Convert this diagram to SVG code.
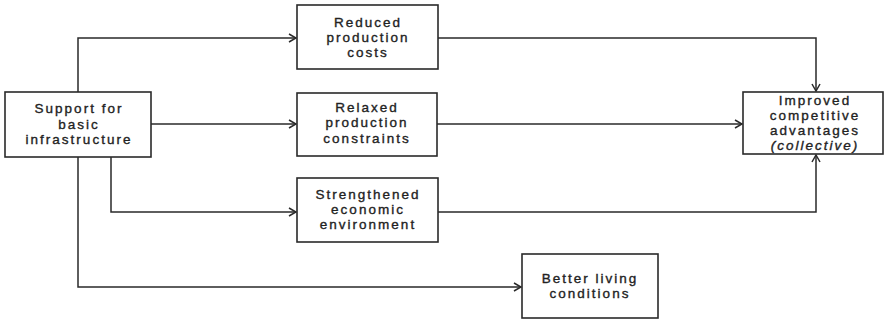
<svg xmlns="http://www.w3.org/2000/svg" width="885" height="320" viewBox="0 0 885 320">
  <defs>
    <marker id="arrow" viewBox="0 0 10 10" refX="9" refY="5" markerWidth="10" markerHeight="10" markerUnits="userSpaceOnUse" orient="auto">
      <polyline points="2,1 9,5 2,9" fill="none" stroke="#2a2a2a" stroke-width="1.5"/>
    </marker>
    <style>
      .box { fill: #ffffff; stroke: #2a2a2a; stroke-width: 1.6; }
      .lbl { font-family: "Liberation Sans", Arial, sans-serif; font-size: 13.5px; letter-spacing: 2px; fill: #222222; stroke: #222222; stroke-width: 0.35; text-anchor: middle; }
      .it { font-style: italic; }
      .edge { fill: none; stroke: #2a2a2a; stroke-width: 1.5; marker-end: url(#arrow); }
    </style>
  </defs>
  <rect width="885" height="320" fill="#ffffff"/>

  <g id="connectors">
    <!-- from the infrastructure box -->
    <polyline class="edge" points="78,92 78,38 296,38"/>
    <polyline class="edge" points="151,124 296,124"/>
    <polyline class="edge" points="111,157 111,212 296,212"/>
    <polyline class="edge" points="78,157 78,287 521,287"/>
    <!-- into the competitive advantages box -->
    <polyline class="edge" points="438,38 816,38 816,91"/>
    <polyline class="edge" points="437,124 742,124"/>
    <polyline class="edge" points="438,212 816,212 816,155"/>
  </g>

  <g id="support">
    <rect class="box" x="5" y="92" width="146" height="65"/>
    <text class="lbl" x="79" y="113.3">Support for</text>
    <text class="lbl" x="79" y="128.5">basic</text>
    <text class="lbl" x="79" y="143.7">infrastructure</text>
  </g>

  <g id="reduced">
    <rect class="box" x="297" y="5" width="141" height="64"/>
    <text class="lbl" x="368" y="26.8">Reduced</text>
    <text class="lbl" x="368" y="42">production</text>
    <text class="lbl" x="368" y="57.2">costs</text>
  </g>

  <g id="relaxed">
    <rect class="box" x="297" y="93" width="140" height="63"/>
    <text class="lbl" x="367" y="112.2">Relaxed</text>
    <text class="lbl" x="367" y="127.4">production</text>
    <text class="lbl" x="367" y="142.6">constraints</text>
  </g>

  <g id="strengthened">
    <rect class="box" x="297" y="178" width="141" height="64"/>
    <text class="lbl" x="368" y="198.8">Strengthened</text>
    <text class="lbl" x="368" y="214">economic</text>
    <text class="lbl" x="368" y="229.2">environment</text>
  </g>

  <g id="living">
    <rect class="box" x="522" y="254" width="136" height="64"/>
    <text class="lbl" x="590" y="282.5">Better living</text>
    <text class="lbl" x="590" y="297.7">conditions</text>
  </g>

  <g id="improved">
    <rect class="box" x="743" y="92" width="140" height="62"/>
    <text class="lbl" x="815" y="104.6">Improved</text>
    <text class="lbl" x="815" y="119.8">competitive</text>
    <text class="lbl" x="815" y="135">advantages</text>
    <text class="lbl it" x="815" y="150.2">(collective)</text>
  </g>
</svg>
